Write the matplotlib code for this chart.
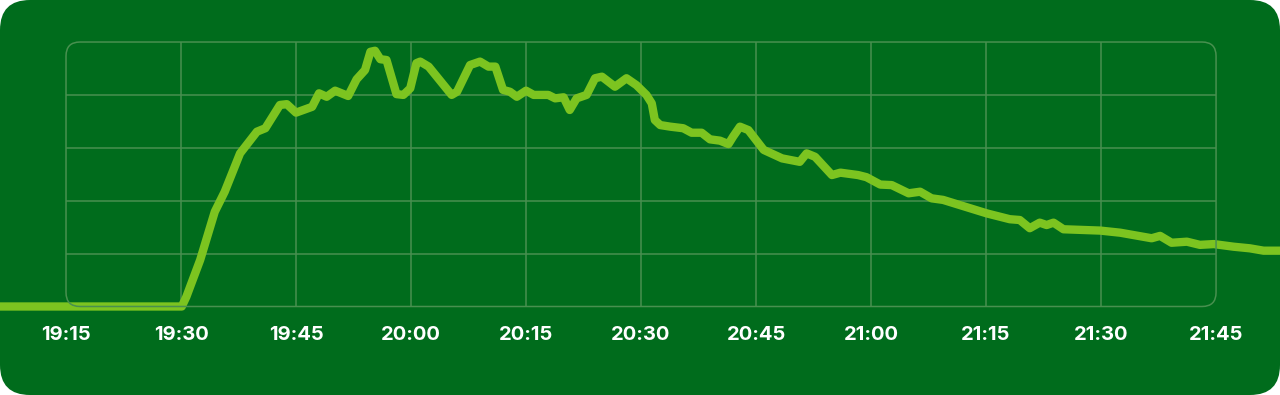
import matplotlib
matplotlib.use("Agg")
import matplotlib.pyplot as plt
from matplotlib.patches import FancyBboxPatch
from matplotlib.transforms import IdentityTransform

# minutes after 19:00 and power level (0-100 scale, one grid row = 20)
minutes = [6.0, 30.1, 30.7, 32.5, 34.4, 35.7, 37.7, 39.9, 41.0, 42.9, 43.8, 45.0,
           47.1, 48.0, 49.0, 50.1, 51.8, 52.9, 54.0, 54.7, 55.3, 56.0, 56.8, 58.1,
           59.0, 59.9, 60.7, 61.2, 62.3, 65.3, 66.0, 67.7, 69.0, 70.1, 71.0, 72.0,
           72.9, 73.8, 75.0, 76.0, 77.9, 78.8, 79.9, 80.7, 81.6, 82.9, 84.0, 84.9,
           86.6, 88.1, 89.4, 90.7, 91.4, 91.8, 92.5, 93.8, 95.5, 96.6, 97.9, 99.0,
           100.3, 101.4, 102.0, 102.9, 104.0, 106.0, 108.4, 110.7, 111.6, 112.7,
           114.9, 116.0, 118.3, 119.4, 121.2, 122.7, 124.9, 126.4, 127.9, 129.4,
           135.1, 138.1, 139.4, 140.7, 142.0, 142.9, 143.8, 145.1, 149.9, 152.5,
           156.6, 157.7, 159.2, 161.2, 162.9, 164.7, 167.3, 169.4, 171.2, 174.0]
power = [0.0, 0.0, 3.7, 17.6, 35.8, 43.4, 57.9, 66.1, 67.4, 76.2, 76.5, 73.3,
         75.5, 80.6, 79.3, 81.6, 79.6, 85.9, 89.4, 96.3, 96.7, 93.5, 93.2, 80.3,
         80.0, 82.5, 92.0, 92.6, 90.7, 80.0, 81.2, 91.3, 92.6, 90.7, 90.7, 81.9,
         81.2, 79.3, 81.6, 80.0, 80.0, 78.7, 79.1, 74.3, 78.7, 80.0, 86.3, 86.9,
         83.1, 86.3, 83.7, 80.0, 76.8, 70.5, 68.6, 68.0, 67.4, 65.7, 65.7, 63.2,
         62.7, 61.4, 64.2, 68.0, 66.7, 59.2, 56.0, 54.7, 57.9, 56.6,
         49.7, 50.6, 49.7, 48.9, 46.1, 45.9, 42.8, 43.4, 40.9, 40.3,
         35.2, 33.0, 32.7, 29.6, 31.7, 30.8, 31.7, 29.2, 28.7, 27.9,
         25.8, 26.7, 24.1, 24.5, 23.3, 23.6, 22.6, 22.0, 21.1, 21.1]

tick_minutes = [15, 30, 45, 60, 75, 90, 105, 120, 135, 150, 165]
tick_labels = ["19:15", "19:30", "19:45", "20:00", "20:15", "20:30",
               "20:45", "21:00", "21:15", "21:30", "21:45"]
level_lines = [0, 20, 40, 60, 80, 100]

bg = "#006c1c"
grid_c = "#48904f"
line_c = "#7cc420"

fig = plt.figure(figsize=(12.8, 3.95), dpi=100)
fig.patch.set_facecolor("white")
W, H = fig.get_size_inches() * fig.dpi
fig.add_artist(FancyBboxPatch((0, 0), W, H, boxstyle="round,pad=0,rounding_size=30",
                              transform=IdentityTransform(),
                              facecolor=bg, edgecolor="none", zorder=0))

ax = fig.add_axes([0, 0.1906, 1, 0.7365])
ax.set_facecolor("none")
ax.set_xlim(6.39, 173.34)
ax.set_ylim(-5, 105)
for s in ax.spines.values():
    s.set_visible(False)
ax.set_yticks([])
ax.set_xticks(tick_minutes)
ax.set_xticklabels(tick_labels, color="white", fontsize=14.5, fontweight="bold",
                   family=["Inter", "DejaVu Sans"])
ax.tick_params(axis="x", length=0, pad=4.5)

# inner grid
ax.vlines(tick_minutes[1:-1], level_lines[0], level_lines[-1], color=grid_c, lw=1.1, zorder=1)
ax.hlines(level_lines[1:-1], tick_minutes[0], tick_minutes[-1], color=grid_c, lw=1.1, zorder=1)

# rounded frame around the grid
fig.canvas.draw()
x0, y0 = ax.transData.transform((tick_minutes[0], level_lines[0]))
x1, y1 = ax.transData.transform((tick_minutes[-1], level_lines[-1]))
fig.add_artist(FancyBboxPatch((x0, y0), x1 - x0, y1 - y0, boxstyle="round,pad=0,rounding_size=14",
                              transform=IdentityTransform(), facecolor="none",
                              edgecolor=grid_c, lw=1.1, zorder=1))

ax.plot(minutes, power, color=line_c, lw=6, solid_joinstyle="round",
        solid_capstyle="round", zorder=3, clip_on=False)

fig.savefig("out.png", dpi=100)
